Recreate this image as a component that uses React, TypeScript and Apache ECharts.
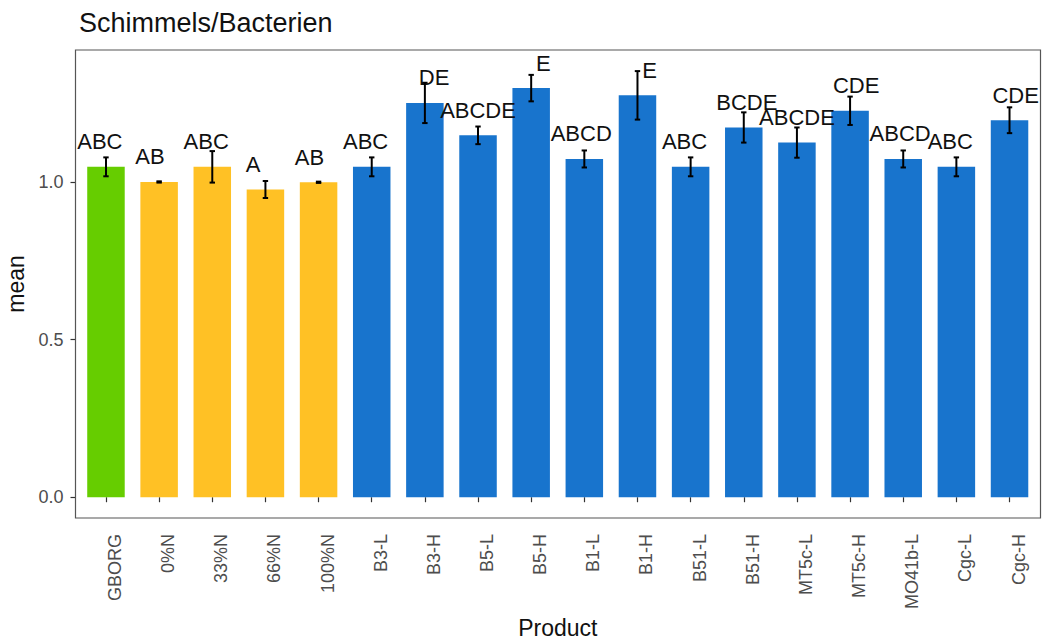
import React, { useEffect, useRef } from "react";
import * as echarts from "echarts";

const categories = ["GBORG", "0%N", "33%N", "66%N", "100%N", "B3-L", "B3-H", "B5-L", "B5-H", "B1-L", "B1-H", "B51-L", "B51-H", "MT5c-L", "MT5c-H", "MO41b-L", "Cgc-L", "Cgc-H"];
const means = [1.049, 1.001, 1.049, 0.977, 1.0, 1.049, 1.252, 1.149, 1.299, 1.074, 1.276, 1.049, 1.174, 1.126, 1.227, 1.074, 1.049, 1.197];
const se = [0.03, 0.002, 0.05, 0.027, 0.002, 0.03, 0.064, 0.028, 0.042, 0.027, 0.077, 0.03, 0.048, 0.048, 0.045, 0.027, 0.03, 0.041];
const letters = ["ABC  ", "AB   ", "ABC  ", "A    ", "AB   ", "ABC  ", "   DE", "ABCDE", "    E", "ABCD ", "    E", "ABC  ", " BCDE", "ABCDE", "  CDE", "ABCD ", "ABC  ", "  CDE"];
const groups = ["control", "N", "N", "N", "N", "B", "B", "B", "B", "B", "B", "B", "B", "B", "B", "B", "B", "B"];
const yTicks = [0, 0.5, 1.0];

const groupColors: Record<string, string> = { control: "#66CD00", N: "#FFC125", B: "#1874CD" };
const FONT = "'Liberation Sans', Arial, sans-serif";

export default function App() {
  const ref = useRef<HTMLDivElement>(null);
  useEffect(() => {
    if (!ref.current) return;
    const chart = echarts.init(ref.current, null, { renderer: "svg" });
    const gridLeft = 79.4;
    const gridWidth = 956.7;
    const gridTop = 50;
    const gridHeight = 468;
    chart.setOption({
      animation: false,
      backgroundColor: "#ffffff",
      textStyle: { fontFamily: FONT },
      title: {
        text: "Schimmels/Bacterien",
        left: 74,
        top: 4,
        textStyle: { fontSize: 27, fontWeight: "normal", color: "#111111", fontFamily: FONT },
      },
      grid: {
        left: gridLeft,
        top: gridTop,
        width: gridWidth,
        height: gridHeight,
        containLabel: false,
        outerBoundsMode: "none",
      },
      xAxis: {
        type: "category",
        data: categories,
        name: "Product",
        nameLocation: "middle",
        nameGap: 98,
        nameTextStyle: { fontSize: 23, color: "#111111", fontFamily: FONT },
        axisLine: { show: false },
        axisTick: { show: true, alignWithLabel: true, length: 5, lineStyle: { color: "#333333", width: 1.2 } },
        axisLabel: {
          rotate: 90,
          interval: 0,
          margin: 16,
          fontSize: 18,
          color: "#4D4D4D",
          verticalAlign: "top",
          fontFamily: FONT,
        },
        splitLine: { show: false },
      },
      yAxis: {
        type: "value",
        min: -0.066,
        max: 1.42,
        offset: 3.9,
        name: "mean",
        nameLocation: "middle",
        nameGap: 45,
        nameTextStyle: { fontSize: 23, color: "#111111", fontFamily: FONT },
        axisLine: { show: false },
        axisTick: { show: true, length: 5, customValues: yTicks, lineStyle: { color: "#333333", width: 1.2 } },
        axisLabel: {
          customValues: yTicks,
          margin: 12,
          fontSize: 18,
          color: "#4D4D4D",
          fontFamily: FONT,
          formatter: (v: number) => v.toFixed(1),
        },
        splitLine: { show: false },
      },
      graphic: [
        {
          type: "rect",
          shape: { x: 75.5, y: 50, width: 965, height: 468 },
          style: { fill: "none", stroke: "#555555", lineWidth: 1.2 },
          silent: true,
          z: 100,
        },
      ],
      series: [
        {
          type: "bar",
          barWidth: 37.5,
          data: means.map((m, i) => ({
            value: m,
            itemStyle: { color: groupColors[groups[i]] },
          })),
          label: {
            show: true,
            position: "top",
            distance: 14,
            fontSize: 22,
            color: "#111111",
            fontFamily: FONT,
            formatter: (p: any) => letters[p.dataIndex].replace(/ /g, "\u00a0"),
          },
          z: 2,
        },
        {
          type: "custom",
          z: 5,
          data: means.map((m, i) => [i, m - se[i], m + se[i]]),
          renderItem: (params: any, api: any) => {
            const x = api.value(0);
            const lo = api.coord([x, api.value(1)]);
            const hi = api.coord([x, api.value(2)]);
            const hw = 2.7;
            const style = { stroke: "#000000", lineWidth: 2 };
            return {
              type: "group",
              children: [
                { type: "line", shape: { x1: lo[0], y1: lo[1], x2: hi[0], y2: hi[1] }, style },
                { type: "line", shape: { x1: lo[0] - hw, y1: lo[1], x2: lo[0] + hw, y2: lo[1] }, style },
                { type: "line", shape: { x1: hi[0] - hw, y1: hi[1], x2: hi[0] + hw, y2: hi[1] }, style },
              ],
            };
          },
        },
      ],
    });
    return () => chart.dispose();
  }, []);
  return <div ref={ref} style={{ position: "fixed", left: 0, top: 0, width: 1042, height: 640 }} />;
}
